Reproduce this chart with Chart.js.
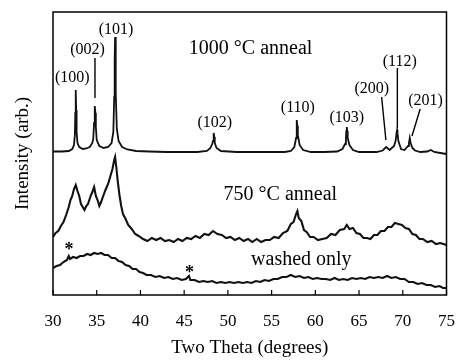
<!DOCTYPE html>
<html>
<head>
<meta charset="utf-8">
<script src="https://cdn.jsdelivr.net/npm/chart.js@4.4.0/dist/chart.umd.min.js"></script>
<style>
  html, body { margin: 0; padding: 0; background: #fff; }
  #wrap { width: 463px; height: 360px; }
</style>
</head>
<body>
<div id="wrap"><canvas id="xrd" width="463" height="360"></canvas></div>
<script>
// two theta (deg) / intensity (arb.), traces already offset
const theta1000 = [30, 31, 31.8, 32.2, 32.4, 32.5, 32.55, 32.6, 32.65, 32.7, 32.8, 33, 33.4, 33.8, 34.2, 34.5, 34.6, 34.7, 34.75, 34.8,
  34.85, 34.9, 35, 35.3, 35.8, 36.3, 36.7, 36.9, 37, 37.05, 37.1, 37.15, 37.2, 37.3, 37.5, 37.9, 38.5, 39.5, 41, 43,
  45, 46.5, 47.6, 48, 48.2, 48.3, 48.35, 48.4, 48.45, 48.5, 48.7, 49.2, 51, 53, 55, 56.5, 57.2, 57.6, 57.8, 57.85,
  57.9, 57.95, 58, 58.2, 58.6, 59.5, 61, 62.5, 63.1, 63.4, 63.5, 63.55, 63.6, 63.65, 63.7, 63.9, 64.3, 65, 66, 67,
  67.7, 68.1, 68.5, 69, 69.2, 69.3, 69.35, 69.4, 69.5, 69.8, 70.2, 70.6, 70.7, 70.8, 70.9, 71.1, 71.4, 72, 72.8, 73.2,
  73.6, 74.3, 75]
const int1000 = [143.5, 143.5, 144, 146, 150, 160, 182, 205, 185, 163, 152, 148, 146, 146.5, 148, 152, 156, 172, 184, 189,
  182, 168, 155, 149, 147, 148, 152, 163, 198, 234, 258, 235, 202, 166, 154, 148, 145.5, 144, 143.5, 143,
  143, 143, 144, 147, 151, 154, 159, 162, 158, 152, 147, 144, 143, 143, 143, 143, 144, 148, 157, 168,
  175, 169, 160, 150, 145, 143, 143, 143.5, 146, 151, 157, 164, 168, 164, 157, 150, 145, 143, 143, 143,
  144.5, 148, 145, 149, 155, 163, 165, 162, 154, 146, 145, 149, 152, 157, 152, 147, 144.5, 143, 143.5, 145,
  143, 142, 141]

const theta750 = [30, 30.3, 30.6, 30.9, 31.2, 31.5, 31.8, 32, 32.2, 32.4, 32.6, 32.8, 33, 33.2, 33.4, 33.6, 33.8, 34, 34.3, 34.5,
  34.7, 34.9, 35.1, 35.3, 35.5, 35.7, 36, 36.3, 36.6, 36.8, 37, 37.1, 37.25, 37.4, 37.6, 37.8, 38, 38.3, 38.6, 39,
  39.4, 39.8, 40.3, 40.8, 41.3, 41.8, 42.3, 42.8, 43.3, 43.8, 44.3, 44.8, 45.3, 45.8, 46.3, 46.8, 47.3, 47.8, 48.3, 48.8,
  49.3, 49.8, 50.3, 50.8, 51.3, 51.8, 52.3, 52.8, 53.3, 53.8, 54.3, 54.8, 55.3, 55.8, 56.3, 56.8, 57.2, 57.5, 57.8, 57.95,
  58.1, 58.4, 58.7, 59, 59.4, 59.8, 60.3, 60.8, 61.3, 61.8, 62.3, 62.8, 63.3, 63.6, 63.9, 64.3, 64.7, 65.1, 65.5, 65.9,
  66.3, 66.7, 67.1, 67.5, 67.9, 68.3, 68.7, 69.1, 69.5, 69.9, 70.3, 70.7, 71.1, 71.5, 71.9, 72.3, 72.8, 73.3, 73.8, 74.3, 75]
const int750 = [58, 62, 64, 69, 73, 80, 88, 95, 99, 106, 110, 104, 99, 91, 88, 85, 89, 91, 99, 103,
  108, 99, 95, 89, 93, 98, 105, 111, 120, 126, 135, 138, 127, 114, 100, 89, 81, 76, 70, 66,
  61, 59, 56, 54, 57, 55, 57, 54, 55, 53, 56, 54, 57, 56, 59, 57, 61, 60, 64, 61,
  60, 57, 58, 55, 57, 54, 56, 53, 56, 53, 55, 55, 58, 57, 62, 64, 71, 73, 81, 84,
  77, 74, 65, 63, 58, 58, 55, 56, 57, 61, 60, 65, 66, 70, 66, 67, 62, 61, 57, 57,
  56, 60, 60, 64, 64, 68, 68, 72, 71, 70, 67, 66, 61, 60, 56, 56, 53, 54, 51, 52, 50]

const thetaWashed = [30, 30.4, 30.8, 31.2, 31.6, 31.8, 31.95, 32.3, 32.7, 33.1, 33.5, 33.9, 34.3, 34.7, 35.1, 35.5, 35.9, 36.3, 36.7, 37.1,
  37.5, 37.9, 38.3, 38.7, 39.1, 39.5, 39.9, 40.3, 40.7, 41.2, 41.7, 42.2, 42.7, 43.2, 43.7, 44.2, 44.7, 45.2, 45.55, 45.7,
  46.2, 46.7, 47.2, 47.7, 48.2, 48.7, 49.2, 49.7, 50.2, 50.7, 51.2, 51.7, 52.2, 52.7, 53.2, 53.7, 54.2, 54.7, 55.2, 55.7,
  56.2, 56.7, 57.2, 57.7, 58.2, 58.7, 59.2, 59.7, 60.2, 60.7, 61.2, 61.7, 62.2, 62.7, 63.2, 63.7, 64.2, 64.7, 65.2, 65.7,
  66.2, 66.7, 67.2, 67.7, 68.2, 68.7, 69.2, 69.7, 70.2, 70.7, 71.2, 71.7, 72.2, 72.7, 73.2, 73.7, 74.2, 74.6, 75]
const intWashed = [27, 29, 30, 33, 35, 39, 36, 38, 37, 39, 39, 41, 40, 42, 41, 42, 40, 40, 37, 37,
  34, 33, 30, 29, 26, 26, 23, 22, 20, 20, 18, 19, 17, 18, 16, 17, 15, 16, 19, 15,
  15, 13, 14, 13, 14, 12, 13, 12, 13, 12, 13, 12, 13, 12, 14, 13, 15, 14, 16, 16,
  18, 18, 20, 18, 19, 17, 18, 16, 17, 16, 16, 15, 17, 15, 16, 15, 17, 16, 17, 16,
  18, 17, 18, 17, 19, 17, 18, 16, 16, 13, 13, 11, 12, 10, 10, 8, 9, 7, 7]

// reflection labels (hkl) with their anchor in data units
const hklText = ['(100)', '(002)', '(101)', '(102)', '(110)', '(103)', '(200)', '(112)', '(201)']
const hklTheta = [32.2, 33.95, 37.2, 48.5, 58.0, 63.6, 66.45, 69.65, 72.6]
const hklLevel = [217, 245, 265, 172, 187, 177, 206, 233, 194]

// leader lines from label to peak: [theta1, level1, theta2, level2]
const leaders = [
  [34.8, 237, 34.8, 197],
  [67.58, 198, 68.07, 155],
  [69.38, 227, 69.38, 167],
  [71.99, 186, 71.05, 159]
]

const sampleText = ['1000 \u00b0C anneal', '750 \u00b0C anneal', 'washed only']
const sampleTheta = [52.6, 56.0, 58.4]
const sampleLevel = [246, 100, 35]

const starTheta = [31.83, 45.6]
const starLevel = [49, 26]

const serif = 'Liberation Serif'

function pts (xs, ys) {
  return xs.map((x, i) => ({ x: x, y: ys[i] }))
}

const extras = {
  id: 'extras',
  afterDatasetsDraw (chart) {
    const { ctx, chartArea: a, scales: { x, y } } = chart
    ctx.save()
    ctx.strokeStyle = '#000'
    ctx.fillStyle = '#000'

    // frame + inward ticks
    ctx.lineWidth = 1.5
    ctx.strokeRect(a.left, a.top, a.right - a.left, a.bottom - a.top)
    ctx.lineWidth = 1.2
    x.ticks.forEach(t => {
      const px = x.getPixelForValue(t.value)
      ctx.beginPath()
      ctx.moveTo(px, a.bottom)
      ctx.lineTo(px, a.bottom - 5)
      ctx.stroke()
    })

    // leaders
    ctx.lineWidth = 1.4
    leaders.forEach(l => {
      ctx.beginPath()
      ctx.moveTo(x.getPixelForValue(l[0]), y.getPixelForValue(l[1]))
      ctx.lineTo(x.getPixelForValue(l[2]), y.getPixelForValue(l[3]))
      ctx.stroke()
    })

    ctx.textAlign = 'center'
    ctx.textBaseline = 'middle'
    ctx.font = '16px "' + serif + '"'
    hklText.forEach((s, i) => {
      ctx.fillText(s, x.getPixelForValue(hklTheta[i]), y.getPixelForValue(hklLevel[i]))
    })

    ctx.font = '20px "' + serif + '"'
    sampleText.forEach((s, i) => {
      ctx.fillText(s, x.getPixelForValue(sampleTheta[i]), y.getPixelForValue(sampleLevel[i]))
    })

    ctx.font = 'bold 18px "' + serif + '"'
    starTheta.forEach((t, i) => {
      ctx.fillText('*', x.getPixelForValue(t), y.getPixelForValue(starLevel[i]) + 4)
    })
    ctx.restore()
  }
}

const trace = (data, w) => ({
  data: data,
  borderColor: '#111',
  borderWidth: w,
  pointRadius: 0,
  tension: 0,
  fill: false
})

new Chart(document.getElementById('xrd'), {
  type: 'line',
  data: {
    datasets: [
      trace(pts(theta1000, int1000), 1.8),
      trace(pts(theta750, int750), 2.1),
      trace(pts(thetaWashed, intWashed), 2.1)
    ]
  },
  options: {
    responsive: false,
    devicePixelRatio: 1,
    animation: false,
    layout: { padding: { left: 0, top: 12, right: 8, bottom: 0 } },
    plugins: { legend: { display: false }, tooltip: { enabled: false } },
    scales: {
      x: {
        type: 'linear',
        min: 30,
        max: 75,
        grid: { display: false },
        border: { display: false },
        ticks: { stepSize: 5, padding: 8, autoSkip: false, maxRotation: 0, color: '#000', font: { family: serif, size: 17 } },
        title: { display: true, text: 'Two Theta (degrees)', color: '#000', font: { family: serif, size: 19 }, padding: { top: 0, bottom: 1 } },
        afterFit (s) { s.height = 65 }
      },
      y: {
        min: 0,
        max: 283,
        grid: { display: false },
        border: { display: false },
        ticks: { display: false },
        title: { display: true, text: 'Intensity (arb.)', color: '#000', font: { family: serif, size: 19 }, padding: { top: 12, bottom: 0 } },
        afterFit (s) { s.width = 53 }
      }
    }
  },
  plugins: [extras]
})
</script>
</body>
</html>
